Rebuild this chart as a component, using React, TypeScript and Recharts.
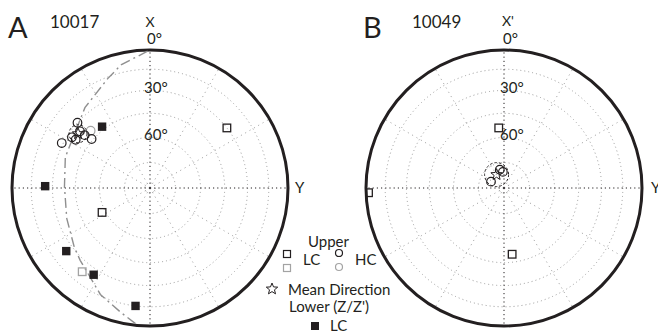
import React from "react";
import { PolarAngleAxis, PolarGrid, PolarRadiusAxis, RadarChart, Scatter, ScatterChart, XAxis, YAxis } from "recharts";

type Dir = { dec: number; inc: number };

// 10017 (panel A) - declination / inclination in degrees, negative = upper hemisphere
const hcUpperA: Dir[] = [
  { dec: 312, inc: -30 },
  { dec: 297, inc: -29 },
  { dec: 310, inc: -44 },
  { dec: 303, inc: -33 },
  { dec: 309, inc: -35 },
  { dec: 309, inc: -39 },
  { dec: 303, inc: -36 }
];
const hcUpperGreyA: Dir[] = [{ dec: 314, inc: -40 }];
const lcUpperA: Dir[] = [
  { dec: 52, inc: -30 },
  { dec: 243, inc: -58 }
];
const lcUpperGreyA: Dir[] = [{ dec: 219, inc: -23 }];
const lcLowerA: Dir[] = [
  { dec: 322, inc: 43 },
  { dec: 271, inc: 25 },
  { dec: 233, inc: 25 },
  { dec: 213, inc: 26 },
  { dec: 187, inc: 15 }
];
const meanA: Dir[] = [{ dec: 307, inc: -35 }];
// great circle trace
const planeA: Dir[] = [
  { dec: 359, inc: 1 },
  { dec: 347, inc: 9 },
  { dec: 339, inc: 16 },
  { dec: 321, inc: 26 },
  { dec: 290, inc: 35 },
  { dec: 271, inc: 38 },
  { dec: 250, inc: 36 },
  { dec: 232, inc: 31 },
  { dec: 224, inc: 28 },
  { dec: 205, inc: 16 },
  { dec: 193, inc: 8 },
  { dec: 185, inc: 0 }
];

// 10049 (panel B)
const hcUpperB: Dir[] = [
  { dec: 296, inc: -81.5 },
  { dec: 347, inc: -79 },
  { dec: 356, inc: -80.5 }
];
const lcUpperB: Dir[] = [
  { dec: 355, inc: -54 },
  { dec: 268, inc: -2 },
  { dec: 173, inc: -50 }
];
const meanB: Dir[] = [{ dec: 331, inc: -81 }];

const ringIncs = [15, 30, 45, 60, 75, 87];
const spokeAngles = [0, 30, 60, 90, 120, 150, 180, 210, 240, 270, 300, 330];
const cardinalAngles = [0, 90, 180, 270];
const minorAngles = [30, 60, 120, 150, 210, 240, 300, 330];

const INK = "#231f20";
const GREY = "#a3a3a3";
const FONT = "Lato, 'Open Sans', sans-serif";

const toRad = Math.PI / 180;
const eqArea = (inc: number) => Math.SQRT2 * Math.sin(((90 - Math.abs(inc)) / 2) * toRad);
const project = (d: Dir) => {
  const r = eqArea(d.inc);
  return { x: r * Math.sin(d.dec * toRad), y: r * Math.cos(d.dec * toRad) };
};

const starPoints = (cx: number, cy: number, ro: number, ri: number) =>
  Array.from({ length: 10 }, (_, i) => {
    const a = (-90 + i * 36) * toRad;
    const r = i % 2 === 0 ? ro : ri;
    return `${cx + r * Math.cos(a)},${cy + r * Math.sin(a)}`;
  }).join(" ");

const openSquare = (color: string) => (p: any) => (
  <rect x={p.cx - 3.8} y={p.cy - 3.8} width={7.6} height={7.6} fill="none" stroke={color} strokeWidth={1.3} />
);
const filledSquare = (p: any) => <rect x={p.cx - 4.2} y={p.cy - 4.2} width={8.4} height={8.4} fill={INK} />;
const openCircle = (color: string) => (p: any) => (
  <circle cx={p.cx} cy={p.cy} r={4.3} fill="none" stroke={color} strokeWidth={1.2} />
);
const starShape = (p: any) => (
  <polygon points={starPoints(p.cx, p.cy, 6, 2.6)} fill="none" stroke={INK} strokeWidth={1} />
);
const confCircle = (rad: number) => (p: any) => (
  <circle cx={p.cx} cy={p.cy} r={rad} fill="none" stroke={INK} strokeWidth={1} strokeDasharray="2.5 2" />
);
const noDot = () => <g />;

type NetProps = {
  cx: number;
  cy: number;
  R: number;
  plane?: Dir[];
  hcUpper: Dir[];
  hcUpperGrey?: Dir[];
  lcUpper: Dir[];
  lcUpperGrey?: Dir[];
  lcLower?: Dir[];
  mean: Dir[];
  confRadius: number;
};

function Net(props: NetProps) {
  const { cx, cy, R } = props;
  const pad = 4;
  const size = 2 * (R + pad);
  const box: React.CSSProperties = { position: "absolute", left: cx - R - pad, top: cy - R - pad, width: size, height: size };
  const m = { top: pad, right: pad, bottom: pad, left: pad };
  // equal-area rings (inclination circles)
  const ringRadii = ringIncs.map((inc) => eqArea(inc) * R);

  return (
    <>
      <div style={box}>
        <RadarChart width={size} height={size} data={[{ a: 0 }]} outerRadius={R} margin={{ top: 0, right: 0, bottom: 0, left: 0 }}>
          <PolarAngleAxis
            type="number"
            dataKey="a"
            domain={[0, 360]}
            ticks={spokeAngles}
            tick={false}
            tickLine={false}
            axisLineType="circle"
            axisLine={{ stroke: INK, strokeWidth: 3 }}
          />
          <PolarRadiusAxis type="number" domain={[0, 1]} tick={false} axisLine={false} />
          <PolarGrid gridType="circle" radialLines={false} polarAngles={[]} polarRadius={ringRadii} stroke="#9a9a9a" strokeDasharray="1 3" />
          <PolarGrid gridType="circle" polarRadius={[]} polarAngles={minorAngles} stroke="#9a9a9a" strokeDasharray="1 4" />
          <PolarGrid gridType="circle" polarRadius={[]} polarAngles={cardinalAngles} stroke={INK} strokeDasharray="1.2 3" />
        </RadarChart>
      </div>
      <div style={box}>
        <ScatterChart width={size} height={size} margin={m}>
          <XAxis type="number" dataKey="x" domain={[-1, 1]} allowDataOverflow hide />
          <YAxis type="number" dataKey="y" domain={[-1, 1]} allowDataOverflow hide />
          {props.plane && (
            <Scatter
              data={props.plane.map(project)}
              line={{ stroke: "#8f8f8f", strokeWidth: 1.4, strokeDasharray: "10 4 2 4" }}
              lineType="joint"
              shape={noDot}
              isAnimationActive={false}
            />
          )}
          {props.lcUpperGrey && (
            <Scatter data={props.lcUpperGrey.map(project)} shape={openSquare(GREY)} isAnimationActive={false} />
          )}
          <Scatter data={props.lcUpper.map(project)} shape={openSquare(INK)} isAnimationActive={false} />
          {props.lcLower && <Scatter data={props.lcLower.map(project)} shape={filledSquare} isAnimationActive={false} />}
          {props.hcUpperGrey && (
            <Scatter data={props.hcUpperGrey.map(project)} shape={openCircle(GREY)} isAnimationActive={false} />
          )}
          <Scatter data={props.hcUpper.map(project)} shape={openCircle(INK)} isAnimationActive={false} />
          <Scatter data={props.mean.map(project)} shape={confCircle(props.confRadius)} isAnimationActive={false} />
          <Scatter data={props.mean.map(project)} shape={starShape} isAnimationActive={false} />
        </ScatterChart>
      </div>
    </>
  );
}

function Labels() {
  const t = { fontFamily: FONT, fill: INK } as const;
  return (
    <svg width={658} height={333} style={{ position: "absolute", left: 0, top: 0, pointerEvents: "none" }}>
      {/* panel A */}
      <text x={8} y={38} fontSize={29} {...t}>A</text>
      <text x={50} y={28} fontSize={17} {...t}>10017</text>
      <text x={150} y={27} fontSize={14} textAnchor="middle" {...t}>X</text>
      <text x={147} y={44} fontSize={15} {...t}>0°</text>
      <text x={295} y={193} fontSize={15} {...t}>Y</text>
      <text x={144} y={93} fontSize={15} {...t}>30°</text>
      <text x={144} y={140} fontSize={15} {...t}>60°</text>
      {/* panel B */}
      <text x={363} y={38} fontSize={29} {...t}>B</text>
      <text x={412} y={28} fontSize={17} {...t}>10049</text>
      <text x={502} y={26} fontSize={14} {...t}>X'</text>
      <text x={503} y={44} fontSize={15} {...t}>0°</text>
      <text x={651} y={193} fontSize={15} {...t}>Y</text>
      <text x={500} y={93} fontSize={15} {...t}>30°</text>
      <text x={500} y={140} fontSize={15} {...t}>60°</text>
      {/* legend */}
      <text x={308} y={247} fontSize={15} {...t}>Upper</text>
      <rect x={283.5} y={250.5} width={7} height={7} fill="none" stroke={INK} strokeWidth={1.2} />
      <rect x={283.5} y={264.5} width={7} height={7} fill="none" stroke={GREY} strokeWidth={1.2} />
      <text x={303} y={265} fontSize={15} {...t}>LC</text>
      <circle cx={339} cy={253} r={3.5} fill="none" stroke={INK} strokeWidth={1.2} />
      <circle cx={339} cy={267} r={3.5} fill="none" stroke={GREY} strokeWidth={1.2} />
      <text x={355} y={265} fontSize={15} {...t}>HC</text>
      <polygon points={starPoints(272, 289, 6, 2.6)} fill="none" stroke={INK} strokeWidth={1} />
      <text x={288} y={295} fontSize={15} {...t}>Mean Direction</text>
      <text x={289} y={312} fontSize={15} {...t}>Lower (Z/Z')</text>
      <rect x={311} y={322} width={8} height={8} fill={INK} />
      <text x={330} y={331} fontSize={15} {...t}>LC</text>
    </svg>
  );
}

export default function App() {
  return (
    <div style={{ position: "absolute", left: 0, top: 0, width: 658, height: 333, background: "#fff", overflow: "hidden" }}>
      <Net
        cx={149.5}
        cy={188}
        R={138}
        plane={planeA}
        hcUpper={hcUpperA}
        hcUpperGrey={hcUpperGreyA}
        lcUpper={lcUpperA}
        lcUpperGrey={lcUpperGreyA}
        lcLower={lcLowerA}
        mean={meanA}
        confRadius={9}
      />
      <Net cx={504} cy={188} R={138} hcUpper={hcUpperB} lcUpper={lcUpperB} mean={meanB} confRadius={12} />
      <Labels />
    </div>
  );
}
